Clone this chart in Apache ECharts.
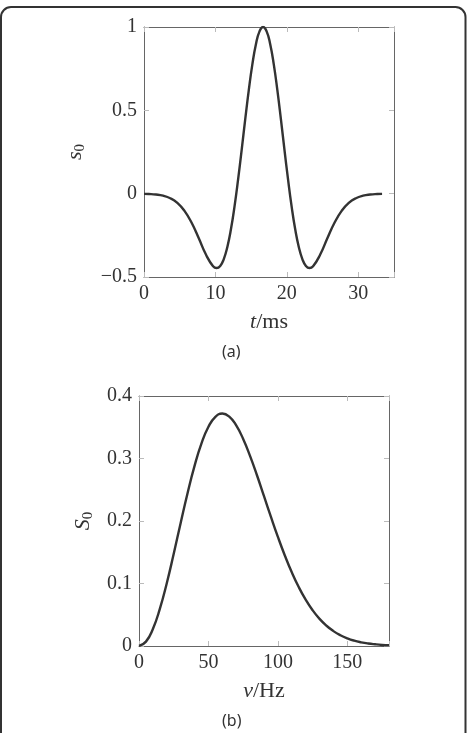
<!DOCTYPE html>
<html>
<head>
<meta charset="utf-8">
<script src="https://cdn.jsdelivr.net/npm/echarts@6/dist/echarts.min.js"></script>
<style>
    html, body { margin: 0; padding: 0; background: #fff; }
    #chart { width: 467px; height: 733px; }
</style>
</head>
<body>
<div id="chart"></div>
<script>
// (a) wavelet s0(t), t in ms
const tValues = [0, 0.67, 1.67, 2.67, 3.67, 4.67, 5.67, 6.67, 7.67, 8.67, 9.67, 10.17, 10.67, 11.17, 11.67, 12.17, 12.67, 13.17, 13.67, 14.17, 14.67, 15.17, 15.67, 16.17, 16.67,
    17.17, 17.67, 18.17, 18.67, 19.17, 19.67, 20.17, 20.67, 21.17, 21.67, 22.17, 22.67, 23.17, 23.67, 24.67, 25.67, 26.67, 27.67, 28.67, 29.67, 30.67, 31.67, 32.67, 33.33];
const s0Values = [-0.001, -0.0019, -0.0051, -0.0122, -0.0272, -0.0554, -0.1031, -0.1748, -0.2675, -0.3652, -0.4353, -0.4463, -0.4336, -0.3924, -0.3195, -0.2138, -0.0776, 0.0838, 0.2618, 0.4452, 0.6209, 0.7756, 0.8965, 0.9736, 1.0,
    0.9736, 0.8965, 0.7756, 0.6209, 0.4452, 0.2618, 0.0838, -0.0776, -0.2138, -0.3195, -0.3924, -0.4336, -0.4463, -0.4353, -0.3652, -0.2675, -0.1748, -0.1031, -0.0554, -0.0272, -0.0122, -0.0051, -0.0019, -0.001];

// (b) spectrum S0(nu), nu in Hz
const nuValues = [0, 5, 10, 15, 20, 25, 30, 35, 40, 45, 50, 55, 60, 65, 70, 75, 80, 85, 90, 95, 100, 105, 110, 115, 120, 125, 130, 135, 140, 145, 150, 155, 160, 165, 170, 175, 180];
const S0Values = [0, 0.007, 0.0273, 0.0594, 0.1005, 0.1476, 0.1969, 0.2449, 0.2882, 0.3241, 0.3507, 0.3667, 0.372, 0.367, 0.3529, 0.3312, 0.3038, 0.2728, 0.2398, 0.2066, 0.1746, 0.1449, 0.1179, 0.0943, 0.0741, 0.0572, 0.0434, 0.0324, 0.0238, 0.0172, 0.0122, 0.0085, 0.0059, 0.004, 0.0027, 0.0017, 0.0011];

// tick labels
const tTicks = [0, 10, 20, 30];
const s0Ticks = [-0.5, 0, 0.5, 1];
const nuTicks = [0, 50, 100, 150];
const S0Ticks = [0, 0.1, 0.2, 0.3, 0.4];

const serif = '"Liberation Serif", "DejaVu Serif", serif';
const textColor = '#333';
const frameColor = '#666';
const tickColor = '#bbb';

function fmt(list) {
    return v => {
        const hit = list.find(x => Math.abs(x - v) < 1e-9);
        if (hit === undefined) return '';
        return hit < 0 ? '\u2212' + Math.abs(hit) : String(hit);
    };
}

function axisBase(extra) {
    return Object.assign({
        type: 'value',
        axisLine: { show: true, onZero: false, lineStyle: { color: frameColor, width: 1 } },
        axisTick: { show: true, inside: true, length: 5, lineStyle: { color: tickColor, width: 1 } },
        splitLine: { show: false },
        axisLabel: { show: false }
    }, extra);
}

function label(list, margin) {
    return { show: true, margin: margin, color: textColor, fontFamily: serif, fontSize: 20, formatter: fmt(list) };
}

const nameRich = {
    i: { fontFamily: serif, fontStyle: 'italic', fontSize: 22, color: textColor, lineHeight: 26 },
    r: { fontFamily: serif, fontSize: 22, color: textColor, lineHeight: 26 },
    sub: { fontFamily: serif, fontSize: 15, color: textColor, verticalAlign: 'bottom', lineHeight: 20 }
};

const chart = echarts.init(document.getElementById('chart'), null, { renderer: 'canvas' });
chart.setOption({
    backgroundColor: '#fff',
    animation: false,
    graphic: [
        { type: 'rect', shape: { x: 1, y: 7, width: 464.5, height: 800, r: 10 }, style: { fill: 'none', stroke: '#333', lineWidth: 2 } },
        { type: 'text', left: 222, top: 344, style: { text: '(a)', fontFamily: '"Noto Sans", "Open Sans", sans-serif', fontSize: 16, fill: textColor } },
        { type: 'text', left: 222, top: 713, style: { text: '(b)', fontFamily: '"Noto Sans", "Open Sans", sans-serif', fontSize: 16, fill: textColor } }
    ],
    grid: [
        { left: 144, top: 27, width: 250, height: 250, containLabel: false },
        { left: 139, top: 396, width: 250, height: 250, containLabel: false }
    ],
    xAxis: [
        axisBase({
            gridIndex: 0, position: 'bottom', min: 0, max: 35, interval: 10,
            axisLabel: label(tTicks, 7),
            name: '{i|t}{r|/ms}', nameLocation: 'middle', nameGap: 32,
            nameTextStyle: { rich: nameRich }
        }),
        axisBase({ gridIndex: 0, position: 'top', min: 0, max: 35, interval: 10 }),
        axisBase({
            gridIndex: 1, position: 'bottom', min: 0, max: 180, interval: 50,
            axisLabel: label(nuTicks, 7),
            name: '{i|\u03bd}{r|/Hz}', nameLocation: 'middle', nameGap: 32,
            nameTextStyle: { rich: nameRich }
        }),
        axisBase({ gridIndex: 1, position: 'top', min: 0, max: 180, interval: 50 })
    ],
    yAxis: [
        axisBase({
            gridIndex: 0, position: 'left', min: -0.5, max: 1, interval: 0.5,
            axisLabel: label(s0Ticks, 7),
            name: '{i|s}{sub|0}', nameLocation: 'middle', nameGap: 56, nameRotate: 90,
            nameTextStyle: { rich: nameRich }
        }),
        axisBase({ gridIndex: 0, position: 'right', min: -0.5, max: 1, interval: 0.5 }),
        axisBase({
            gridIndex: 1, position: 'left', min: 0, max: 0.4, interval: 0.1,
            axisLabel: label(S0Ticks, 7),
            name: '{i|S}{sub|0}', nameLocation: 'middle', nameGap: 43, nameRotate: 90,
            nameTextStyle: { rich: nameRich }
        }),
        axisBase({ gridIndex: 1, position: 'right', min: 0, max: 0.4, interval: 0.1 })
    ],
    series: [
        {
            type: 'line', xAxisIndex: 0, yAxisIndex: 0,
            data: tValues.map((t, i) => [t, s0Values[i]]),
            smooth: true, showSymbol: false,
            lineStyle: { color: '#333', width: 2.4 }
        },
        {
            type: 'line', xAxisIndex: 2, yAxisIndex: 2,
            data: nuValues.map((v, i) => [v, S0Values[i]]),
            smooth: true, showSymbol: false,
            lineStyle: { color: '#333', width: 2.4 }
        }
    ]
});
</script>
</body>
</html>
